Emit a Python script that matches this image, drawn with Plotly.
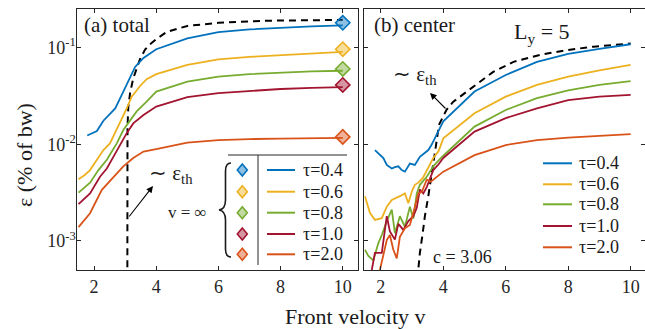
import plotly.graph_objects as go

# ---------------- data ----------------
labels = ["τ=0.4", "τ=0.6", "τ=0.8", "τ=1.0", "τ=2.0"]
colors = ["#0072BD", "#EDB120", "#77AC30", "#A2142F", "#D95319"]
fills = ["rgba(0,114,189,0.45)", "rgba(237,177,32,0.45)", "rgba(119,172,48,0.45)",
         "rgba(162,20,47,0.45)", "rgba(217,83,25,0.45)"]

# (a) total
va_04 = [1.78, 2.09, 2.30, 2.49, 2.68, 2.84, 3.00, 3.16, 3.32, 3.59, 4, 5, 6, 7, 8, 9, 10]
ea_04 = [0.0123, 0.0137, 0.0175, 0.020, 0.0234, 0.030, 0.038, 0.050, 0.063, 0.078, 0.096,
         0.124, 0.144, 0.154, 0.160, 0.165, 0.169]
va_06 = [1.5, 1.7, 1.87, 2.09, 2.30, 2.51, 2.62, 2.84, 3.05, 3.21, 3.48, 3.69, 4, 5, 6, 7, 8, 9, 10]
ea_06 = [0.00435, 0.0048, 0.0054, 0.0069, 0.0087, 0.0102, 0.012, 0.0171, 0.0235, 0.031, 0.040,
         0.047, 0.053, 0.066, 0.0755, 0.080, 0.0836, 0.087, 0.090]
va_08 = [1.5, 1.87, 2.14, 2.41, 2.57, 2.73, 2.94, 3.16, 3.37, 3.69, 4, 5, 6, 7, 8, 9, 10]
ea_08 = [0.00316, 0.004, 0.0054, 0.0069, 0.0084, 0.0102, 0.014, 0.0178, 0.0218, 0.0275, 0.035,
         0.0444, 0.050, 0.053, 0.055, 0.0565, 0.0575]
va_10 = [1.5, 1.87, 2.19, 2.41, 2.62, 2.84, 3.05, 3.26, 3.59, 4, 5, 6, 7, 8, 9, 10]
ea_10 = [0.0024, 0.0031, 0.0046, 0.0056, 0.0074, 0.0098, 0.013, 0.0164, 0.020, 0.0245, 0.0306,
         0.0338, 0.0357, 0.0372, 0.0383, 0.039]
va_20 = [1.5, 1.87, 2.25, 2.62, 2.94, 3.26, 3.59, 4, 5, 6, 7, 8, 9, 10]
ea_20 = [0.00139, 0.00193, 0.00337, 0.0046, 0.0059, 0.0072, 0.0084, 0.0089, 0.0104, 0.011,
         0.0113, 0.0114, 0.0115, 0.0116]
v_inf_pos = [10, 10, 10, 10, 10]
e_inf = [0.180, 0.096, 0.060, 0.041, 0.0119]
vth_a = [3.07, 3.075, 3.10, 3.16, 3.26, 3.37, 3.48, 3.64, 3.80, 4.0, 4.34, 5, 6, 7.5, 10]
eth_a = [4e-4, 0.015, 0.024, 0.034, 0.048, 0.062, 0.076, 0.095, 0.108, 0.122, 0.145, 0.167,
         0.180, 0.189, 0.193]

# (b) center
vb_04 = [1.81, 1.95, 2.08, 2.19, 2.35, 2.45, 2.56, 2.67, 2.77, 2.93, 3.09, 3.25, 3.41, 3.52,
         3.62, 3.84, 4, 5, 6, 7, 8, 9, 10]
eb_04 = [0.0087, 0.0078, 0.0072, 0.0061, 0.0056, 0.0058, 0.0059, 0.0054, 0.0052, 0.0063, 0.0061,
         0.0074, 0.0081, 0.0087, 0.0098, 0.0135, 0.0172, 0.035, 0.052, 0.071, 0.086, 0.097, 0.108]
vb_06 = [1.49, 1.65, 1.81, 2.03, 2.19, 2.35, 2.61, 2.77, 2.88, 3.0, 3.09, 3.2, 3.35, 3.47, 3.68,
         3.85, 4, 5, 6, 7, 8, 9, 10]
eb_06 = [0.0029, 0.00195, 0.00165, 0.00172, 0.00226, 0.00265, 0.0029, 0.0031, 0.00245, 0.0033,
         0.0038, 0.0040, 0.0045, 0.0054, 0.0072, 0.0085, 0.0115, 0.0209, 0.031, 0.041, 0.050,
         0.058, 0.066]
vb_08 = [1.49, 1.6, 1.76, 1.92, 2.03, 2.19, 2.35, 2.45, 2.61, 2.77, 2.93, 3.04, 3.15, 3.25, 3.47,
         3.68, 3.85, 4, 5, 6, 7, 8, 9, 10]
eb_08 = [0.00081, 0.0007, 0.00063, 0.00095, 0.00115, 0.0016, 0.0021, 0.0012, 0.0018, 0.0014,
         0.00226, 0.0017, 0.0031, 0.0038, 0.0046, 0.0059, 0.0068, 0.0076, 0.0152, 0.0226, 0.030,
         0.036, 0.041, 0.045]
vb_10 = [1.71, 1.81, 2.03, 2.19, 2.29, 2.45, 2.56, 2.72, 2.88, 3.04, 3.15, 3.25, 3.36, 3.47, 3.68,
         3.85, 4, 5, 6, 7, 8, 9, 10]
eb_10 = [0.0005, 0.00075, 0.00075, 0.0018, 0.00125, 0.00103, 0.0015, 0.0013, 0.0016, 0.0018,
         0.0022, 0.0034, 0.0031, 0.0036, 0.0054, 0.0062, 0.0072, 0.0135, 0.0186, 0.0235, 0.0286,
         0.031, 0.0324]
vb_20 = [1.97, 2.08, 2.19, 2.29, 2.4, 2.51, 2.61, 2.77, 2.93, 3.04, 3.2, 3.31, 3.47, 3.6, 3.79,
         4, 5, 6, 7, 8, 9, 10]
eb_20 = [0.0005, 0.00069, 0.00102, 0.00115, 0.00081, 0.00066, 0.0011, 0.00135, 0.00146, 0.00195,
         0.0031, 0.0032, 0.0043, 0.0041, 0.0046, 0.0052, 0.0077, 0.0098, 0.011, 0.0117, 0.0122,
         0.0127]
vth_b = [3.17, 3.25, 3.34, 3.41, 3.52, 3.62, 3.73, 3.86, 4.1, 4.32, 4.96, 5.6, 6.25, 7.1, 7.96,
         8.81, 10]
eth_b = [4e-4, 0.00075, 0.0012, 0.0018, 0.0029, 0.0046, 0.0081, 0.0158, 0.0226, 0.0275, 0.039,
         0.056, 0.071, 0.084, 0.094, 0.102, 0.110]

xticks = [2, 4, 6, 8, 10]
yticks = [1e-3, 1e-2, 1e-1]
ytick_text = ["10<sup>-3</sup>", "10<sup>-2</sup>", "10<sup>-1</sup>"]

# ---------------- figure ----------------
W, H = 645, 329
FONT = "Liberation Serif"
AX = "#262626"


def px(X):
    return X / W


def py(Y):
    return 1 - Y / H


fig = go.Figure()

left_v = [va_04, va_06, va_08, va_10, va_20]
left_e = [ea_04, ea_06, ea_08, ea_10, ea_20]
right_v = [vb_04, vb_06, vb_08, vb_10, vb_20]
right_e = [eb_04, eb_06, eb_08, eb_10, eb_20]

fig.add_trace(go.Scatter(x=vth_a, y=eth_a, mode="lines", xaxis="x", yaxis="y",
                         line=dict(color="black", width=2, dash="7px,5px"), showlegend=False))
for i in range(5):
    fig.add_trace(go.Scatter(x=left_v[i], y=left_e[i], mode="lines", xaxis="x", yaxis="y",
                             name=labels[i], line=dict(color=colors[i], width=1.8),
                             showlegend=False))
fig.add_trace(go.Scatter(x=v_inf_pos, y=e_inf, mode="markers", xaxis="x", yaxis="y",
                         marker=dict(symbol="diamond", size=11, color=fills,
                                     line=dict(color=colors, width=1.6)),
                         cliponaxis=False, showlegend=False))

fig.add_trace(go.Scatter(x=vth_b, y=eth_b, mode="lines", xaxis="x2", yaxis="y2",
                         line=dict(color="black", width=2, dash="7px,5px"), showlegend=False))
for i in range(5):
    fig.add_trace(go.Scatter(x=right_v[i], y=right_e[i], mode="lines", xaxis="x2", yaxis="y2",
                             name=labels[i], line=dict(color=colors[i], width=1.8),
                             showlegend=False))

axis_common = dict(showline=True, linecolor=AX, linewidth=1, mirror="ticks", ticks="inside",
                   ticklen=4, tickcolor=AX, tickwidth=1, showgrid=False, zeroline=False,
                   tickfont=dict(family=FONT, size=18, color=AX))

fig.update_layout(
    width=W, height=H,
    margin=dict(l=0, r=0, t=0, b=0),
    paper_bgcolor="white", plot_bgcolor="white",
    showlegend=False,
    xaxis=dict(domain=[px(77.3), px(358.3)], range=[1.46, 10.5], tickvals=xticks,
               anchor="y", **axis_common),
    yaxis=dict(domain=[py(270), py(9)], type="log", range=[-3.301, -0.602], tickvals=yticks,
               ticktext=ytick_text, ticklabelstandoff=-3, anchor="x", **axis_common),
    xaxis2=dict(domain=[px(364.3), 1.0], range=[1.47, 10.46], tickvals=xticks,
                anchor="y2", **axis_common),
    yaxis2=dict(domain=[py(270), py(9)], type="log", range=[-3.301, -0.602], tickvals=yticks,
                showticklabels=False, anchor="x2", **axis_common),
)

shapes = []
annotations = []


def txt(X, Y, s, size, xanchor="left", angle=0, color="#1a1a1a"):
    annotations.append(dict(x=px(X), y=py(Y), xref="paper", yref="paper", text=s,
                            showarrow=False, xanchor=xanchor, yanchor="middle",
                            textangle=angle, font=dict(family=FONT, size=size, color=color)))


def pline(X0, Y0, X1, Y1, color, width):
    shapes.append(dict(type="line", xref="paper", yref="paper", x0=px(X0), y0=py(Y0),
                       x1=px(X1), y1=py(Y1), line=dict(color=color, width=width)))


# legend (a)
leg_a_rows = [170, 191.7, 212.7, 234, 254.3]
for i, Y in enumerate(leg_a_rows):
    pline(267, Y, 295, Y, colors[i], 2)
    txt(301, Y, labels[i], 18)
    X = 242.3
    path = "M {:.5f},{:.5f} L {:.5f},{:.5f} L {:.5f},{:.5f} L {:.5f},{:.5f} Z".format(
        px(X), py(Y - 6), px(X + 5), py(Y), px(X), py(Y + 6), px(X - 5), py(Y))
    shapes.append(dict(type="path", xref="paper", yref="paper", path=path,
                       fillcolor=fills[i], line=dict(color=colors[i], width=1.6)))
pline(228, 155, 347, 155, AX, 1)
pline(258, 155, 258, 265, AX, 1)

# brace
bp = [("M", 231, 163), ("C", 227, 163, 225.5, 166, 225.5, 171), ("L", 225.5, 200),
      ("C", 225.5, 206, 223, 209.5, 219, 210), ("C", 223, 210.5, 225.5, 214, 225.5, 220),
      ("L", 225.5, 249), ("C", 225.5, 254, 227, 257, 231, 257)]
segs = []
for seg in bp:
    cmd, nums = seg[0], seg[1:]
    pts = []
    for k in range(0, len(nums), 2):
        pts.append("{:.5f},{:.5f}".format(px(nums[k]), py(nums[k + 1])))
    segs.append(cmd + " " + " ".join(pts))
shapes.append(dict(type="path", xref="paper", yref="paper", path=" ".join(segs),
                   line=dict(color="#1a1a1a", width=1.6)))

txt(187, 212, "v = ∞", 17, xanchor="center")

# legend (b)
leg_b_rows = [163.3, 184.3, 204.3, 226, 247.3]
for i, Y in enumerate(leg_b_rows):
    pline(543, Y, 572, Y, colors[i], 2)
    txt(577, Y, labels[i], 18)

# texts
txt(82, 25, "(a) total", 21)
txt(372, 25, "(b) center", 21)
txt(512, 33, "L<sub>y</sub> = 5", 22)
txt(431, 257, "c = 3.06", 18)
txt(147, 174, "∼ ε<sub>th</sub>", 21)
txt(391, 75, "∼ ε<sub>th</sub>", 21)
txt(355, 316, "Front velocity v", 22, xanchor="center")
txt(24, 155, "ε (% of bw)", 22, xanchor="center", angle=-90)

# arrows
annotations.append(dict(x=px(153), y=py(186), xref="paper", yref="paper", ax=-25, ay=32,
                        axref="pixel", ayref="pixel", showarrow=True, arrowhead=2,
                        arrowsize=1.2, arrowwidth=1.1, arrowcolor="black", text=""))
annotations.append(dict(x=px(430), y=py(93), xref="paper", yref="paper", ax=17, ay=17,
                        axref="pixel", ayref="pixel", showarrow=True, arrowhead=2,
                        arrowsize=1.2, arrowwidth=1.1, arrowcolor="black", text=""))

fig.update_layout(shapes=shapes, annotations=annotations)
fig.write_html("out.html")
